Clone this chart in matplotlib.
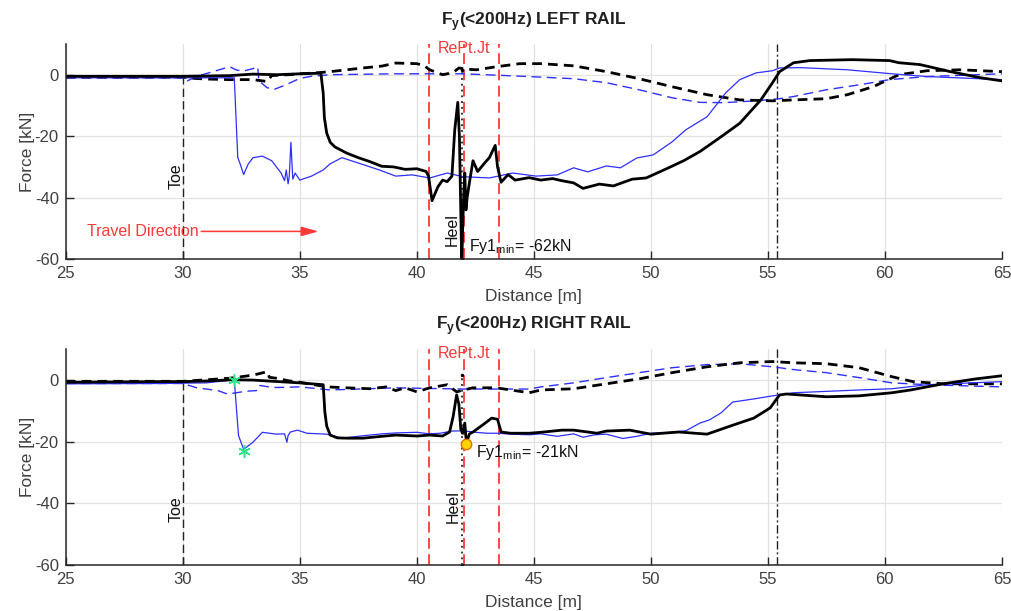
import matplotlib.pyplot as plt
import numpy as np

plt.rcParams['font.family'] = ['Liberation Sans', 'DejaVu Sans']
plt.rcParams['mathtext.fontset'] = 'custom'
plt.rcParams['mathtext.rm'] = 'Liberation Sans'
plt.rcParams['axes.unicode_minus'] = False

# ---- LEFT RAIL (top) ----
left_blk_x = [25, 30, 32, 33, 34, 35, 35.9, 36.0, 36.05, 36.15, 36.3, 36.5, 37.0, 37.5, 38.0, 38.5,
              39.0, 39.5, 40.0, 40.4, 40.5, 40.65, 40.9, 41.1, 41.3, 41.5, 41.62, 41.75, 41.82, 41.88,
              41.92, 41.96, 42.0, 42.05, 42.1, 42.15, 42.25, 42.4, 42.6, 42.9, 43.1, 43.35, 43.45,
              43.6, 43.9, 44.2, 44.8, 45.3, 45.8, 46.2, 46.7, 47.1, 47.8, 48.4, 49.2, 49.8, 50.7, 51.4,
              52.1, 53.0, 53.8, 54.7, 55.2, 55.5, 56.1, 56.8, 58.6, 60.2, 60.6, 61.5, 62.8, 64.1, 65]
left_blk_y = [-0.5, -0.5, -0.3, 0.2, 0.0, 0.3, 0.5, -6, -14, -19, -22, -23.5, -25.5, -27, -28.3, -29.8,
              -30.0, -30.8, -30.6, -31.5, -33, -41, -36.5, -34.3, -34.8, -33, -18, -9, -20, -45,
              -62, -50, -40, -32, -44, -40, -35, -28, -31.5, -28.7, -27, -23, -30,
              -35, -32.5, -34.3, -33.5, -34.3, -33.8, -34.5, -35.2, -37, -35.6, -36.2, -34, -33.6, -30.5, -28,
              -25, -20.2, -15.8, -8.2, -2.6, 1, 3.9, 4.6, 4.9, 4.6, 3.9, 3.3, 1, -1, -2]

left_blu_x = [25, 32.2, 32.28, 32.35, 32.45, 32.6, 32.8, 33.0, 33.4, 33.8, 34.2, 34.35, 34.42, 34.5,
              34.55, 34.62, 34.7, 34.8, 35.0, 35.5, 36.0, 36.3, 36.8, 37.4, 38.0, 38.4, 39.1, 39.8,
              40.55, 41.3, 41.97, 43.1, 44.1, 45.1, 46.0, 46.7, 47.3, 48.1, 48.7, 49.4, 50.1, 50.9,
              51.5, 52.4, 53.2, 53.8, 54.5, 55.2, 55.5, 56.4, 58.4, 60.3, 61.8, 65]
left_blu_y = [-1, -1, -15, -27, -29, -32.5, -29, -27, -26.5, -28, -32, -34.5, -31, -35.5,
              -33, -22, -34, -32, -34.3, -33, -31, -29, -27, -28.5, -30, -31, -33, -32.6,
              -33.6, -32, -33.2, -33.6, -32, -33, -32.6, -30.3, -31.6, -29.7, -30.3, -27.1, -26.1, -21.9,
              -17.9, -13.7, -5.9, -1.6, 0.6, 1.3, 2.2, 2.3, 1.6, 0.3, -0.6, -1.6]

left_blu_dash_x = [25, 30, 30.2, 30.6, 31.2, 32.0, 32.3, 32.6, 33.0, 33.2, 33.25, 33.6, 33.9, 34.4,
                   35.0, 35.5, 36.3, 39.1, 42.0, 44.8, 46.7, 48.1, 49.5, 50.9, 52.1, 53.1, 54.5,
                   55.5, 56.1, 57.5, 58.9, 60.2, 61.8, 65]
left_blu_dash_y = [-1, -1, -2, -0.5, 0.8, 2.6, 1.5, 1.2, 2.0, 2.6, -2, -4.2, -4.8, -3.3,
                   -1.2, -0.5, 0, 0.3, 0.3, -0.6, -1.3, -2.6, -4.9, -7.5, -9, -9.1, -8.5,
                   -7.8, -7.1, -4.9, -3.3, -1.6, -0.6, 0.3]

left_blk_dash_x = [25, 30, 30.5, 31.0, 32.0, 33.0, 33.6, 33.8, 34.0, 34.5, 35.0, 35.5, 36.0, 36.3,
                   37.0, 37.7, 38.5, 39.1, 40.0, 40.3, 40.55, 41.1, 41.3, 41.6, 41.8, 42.1, 42.55,
                   43.4, 44.4, 45.3, 46.7, 48.1, 49.5, 50.9, 52.4, 53.8, 55.2, 56.1, 57.5, 58.4,
                   59.5, 60.6, 61.8, 63.2, 65]
left_blk_dash_y = [-0.8, -0.8, -1.2, -1.4, -1.6, -1.6, -2.2, -0.3, -0.2, 0, 0.3, 0.5, 0.8, 1,
                   1.6, 2.2, 2.8, 3.8, 3.6, 3, 1.6, 0, 0.3, 1.0, 2.2, 1.8, 1.6,
                   2.6, 3.6, 3.6, 2.9, 1, -1.3, -3.9, -6.5, -8.2, -8.5, -8.2, -7.8, -6.5,
                   -3.9, 0, 1.3, 1.6, 1]

# ---- RIGHT RAIL (bottom) ----
right_blk_x = [25, 29, 30, 31, 32.1, 33, 34.1, 35, 36.0, 36.07, 36.15, 36.3, 36.6, 37.0, 37.7, 38.5,
               39.1, 40.0, 40.55, 41.1, 41.4, 41.55, 41.7, 41.8, 41.88, 41.95, 42.05, 42.12, 42.25,
               42.4, 42.8, 43.2, 43.45, 43.6, 44.0, 44.8, 45.3, 46.2, 46.7, 47.7, 48.1, 49.1, 50.0,
               50.5, 51.2, 52.4, 53.5, 54.4, 55.1, 55.5, 55.8, 57.5, 58.9, 60.3, 61.1, 62.5, 63.9, 65]
right_blk_y = [-0.8, -0.6, -0.6, -0.4, 0, -0.1, -0.6, -1.0, -1.6, -10.4, -15, -17.9, -18.8, -18.9, -18.9, -18.3,
               -17.9, -18.2, -17.9, -18.2, -16.9, -12, -4.9, -8, -16, -17.3, -14, -20.5, -17.5,
               -16.9, -14.7, -12.4, -12.8, -16.9, -17.3, -17.3, -17, -16.3, -16.3, -17.3, -16.6, -16.3, -17.6,
               -17.3, -16.9, -17.6, -14.7, -12.4, -9.1, -4.9, -4.6, -5.5, -5.2, -4.2, -3.3, -1.3, 0.3, 1.3]

right_blu_x = [25, 29, 31, 32.2, 32.3, 32.38, 32.6, 33.0, 33.4, 34.0, 34.35, 34.45, 34.5, 34.6, 34.9,
               35.3, 36.15, 36.8, 37.6, 38.5, 39.1, 40.0, 40.55, 41.0, 41.5, 42.0, 42.5, 43.0, 43.5,
               44.0, 44.8, 45.3, 46.0, 46.7, 47.1, 47.6, 48.1, 48.8, 49.4, 50.0, 50.9, 51.5, 52.1,
               52.5, 53.0, 53.5, 54.4, 55.2, 55.5, 56.1, 58.9, 60.3, 61.8, 65]
right_blu_y = [-1.3, -1.2, -1.0, 0, -10, -18, -22.5, -20.2, -17, -17.6, -17.5, -20.2, -18, -16.9, -16.3,
               -17.3, -17.6, -18.9, -18.2, -17.5, -17.2, -17.0, -17.5, -17.3, -16.6, -16.5, -17.0, -17.3, -17.3,
               -17.6, -17.8, -17.5, -18.3, -17.5, -18.6, -17.8, -17.6, -19, -18.3, -17.3, -17, -16.5, -14,
               -13, -10.7, -7.2, -6.2, -5.2, -4.9, -4.2, -3.3, -2.9, -1.6, -0.6]

right_blu_dash_x = [25, 30, 30.6, 31.5, 31.9, 32.3, 32.6, 32.9, 33.15, 33.25, 33.6, 34.0, 35.0, 36.3,
                    37.5, 39.1, 42.0, 44.8, 45.3, 46.7, 48.1, 49.5, 50.9, 52.4, 53.8, 55.2, 56.1,
                    57.5, 58.9, 60.3, 61.8, 65]
right_blu_dash_y = [-1.2, -1.2, -2.6, -3.5, -4.6, -4.2, -3.8, -3.6, -3.5, -1.8, -2.2, -2.5, -2.3, -3.3,
                    -3.0, -2.6, -3.0, -3.0, -2.3, -1.0, 0.7, 2.3, 3.9, 4.9, 5.2, 4.2, 3.3,
                    2.3, 0.7, -1.0, -1.6, -2.3]

right_blk_dash_x = [25, 30, 31, 32, 32.5, 33.0, 33.6, 33.7, 34.0, 34.5, 35.0, 36.15, 37.0, 38.0, 38.7,
                    39.1, 39.5, 40.0, 40.55, 41.0, 41.3, 41.7, 42.0, 42.4, 43.4, 44.8, 45.3, 46.7,
                    48.1, 49.5, 50.9, 52.4, 53.8, 55.2, 56.1, 57.5, 58.9, 60.3, 61.2, 62.5, 65]
right_blk_dash_y = [-0.5, -0.5, 0, 0.5, 1.0, 1.5, 2.6, 0.8, 0.5, -0.3, -0.8, -2.3, -2.6, -2.9, -2.3,
                    -3.5, -2.6, -3.9, -2.6, -2.0, -1.6, -3.9, -3.3, -2.6, -2.6, -4.2, -3.3, -2.9,
                    -1.3, 0.3, 2.3, 4.2, 5.5, 5.9, 5.5, 5.2, 3.9, 1.0, -0.6, -1.3, -1.3]

# markers / annotations
toe_x = 30
heel_x = 41.95
rept_x = [40.5, 42.0, 43.5]
end_x = 55.4
star_x = [32.2, 32.6]
star_y = [0, -23]
min_pt = (42.1, -20.7)

BLUE = '#2f2fff'
RED = '#ff3838'
GREY = '#404040'

fig = plt.figure(figsize=(10.12, 6.11), dpi=100)
ax1 = fig.add_axes([0.065, 0.576, 0.925, 0.352])
ax2 = fig.add_axes([0.065, 0.075, 0.925, 0.354])


def setup(ax, title):
    ax.set_xlim(25, 65)
    ax.set_ylim(-60, 10)
    ax.set_xticks(range(25, 66, 5))
    ax.set_yticks([-60, -40, -20, 0])
    ax.grid(True, color='#e2e2e2', lw=0.9)
    ax.set_axisbelow(True)
    for s in ['top', 'right']:
        ax.spines[s].set_visible(False)
    for s in ['left', 'bottom']:
        ax.spines[s].set_color('#262626')
        ax.spines[s].set_linewidth(1.1)
    ax.tick_params(direction='in', length=6, width=1, colors='#262626',
                   labelcolor=GREY, labelsize=12, pad=5)
    ax.set_xlabel('Distance [m]', fontsize=12.5, color=GREY, labelpad=6)
    ax.set_ylabel('Force [kN]', fontsize=12.5, color=GREY, labelpad=0)
    ax.set_title(title, fontsize=12.5, fontweight='bold', color='#202020', pad=14)
    # reference lines
    ax.plot([toe_x, toe_x], [-60, 0], color='#222222', ls=(0, (6, 3)), lw=1)
    for rx in rept_x:
        ax.axvline(rx, color=RED, ls=(0, (6, 3)), lw=1.3)
    ax.axvline(end_x, color='#222222', ls=(0, (6, 2, 1.5, 2)), lw=1)
    ax.plot([heel_x, heel_x], [-60, 1.5], color='#222222', ls=(0, (1, 2.2)), lw=1.3)
    ax.plot([heel_x, heel_x], [-60, 1.5], 'k.', ms=3)
    ax.text(42.0, 8.5, 'RePt.Jt', color=RED, fontsize=11.5, ha='center', va='center')


setup(ax1, r'F$_\mathregular{y}$(<200Hz) LEFT RAIL')
setup(ax2, r'F$_\mathregular{y}$(<200Hz) RIGHT RAIL')

# top data
ax1.plot(left_blu_dash_x, left_blu_dash_y, color=BLUE, ls=(0, (7, 4)), lw=1.0)
ax1.plot(left_blk_dash_x, left_blk_dash_y, color='k', ls=(0, (3.5, 2.2)), lw=2.0)
ax1.plot(left_blu_x, left_blu_y, color=BLUE, lw=0.9)
ax1.plot(left_blk_x, left_blk_y, color='k', lw=2.0)
ax1.text(toe_x - 0.3, -33, 'Toe', rotation=90, fontsize=11.5, ha='center', va='center', color='#111111')
ax1.text(heel_x - 0.45, -50.5, 'Heel', rotation=90, fontsize=11.5, ha='center', va='center', color='#111111')
ax1.text(42.25, -56, r'Fy1$_{\mathregular{min}}$= -62kN', fontsize=11.5, ha='left', va='center', color='#111111')
ax1.annotate('Travel Direction', xy=(35.8, -51), xytext=(25.9, -51), ha='left', va='center',
             color=RED, fontsize=11.5,
             arrowprops=dict(arrowstyle='-|>,head_length=0.9,head_width=0.25', color=RED, lw=1.1,
                             shrinkA=0, shrinkB=0))

# bottom data
ax2.plot(right_blu_dash_x, right_blu_dash_y, color=BLUE, ls=(0, (7, 4)), lw=1.0)
ax2.plot(right_blk_dash_x, right_blk_dash_y, color='k', ls=(0, (3.5, 2.2)), lw=2.0)
ax2.plot(right_blu_x, right_blu_y, color=BLUE, lw=0.9)
ax2.plot(right_blk_x, right_blk_y, color='k', lw=2.0)
ax2.plot(star_x, star_y, ls='none', marker=(6, 2, 0), ms=9, mew=1.1, color='#2fe58a')
ax2.plot([min_pt[0]], [min_pt[1]], 'o', ms=7.5, mfc='#ffd400', mec='#e07000', mew=1.0)
ax2.text(toe_x - 0.3, -42, 'Toe', rotation=90, fontsize=11.5, ha='center', va='center', color='#111111')
ax2.text(heel_x - 0.4, -41, 'Heel', rotation=90, fontsize=11.5, ha='center', va='center', color='#111111')
ax2.text(42.55, -23.5, r'Fy1$_{\mathregular{min}}$= -21kN', fontsize=11.5, ha='left', va='center', color='#111111')

fig.savefig('out.png', dpi=100)
